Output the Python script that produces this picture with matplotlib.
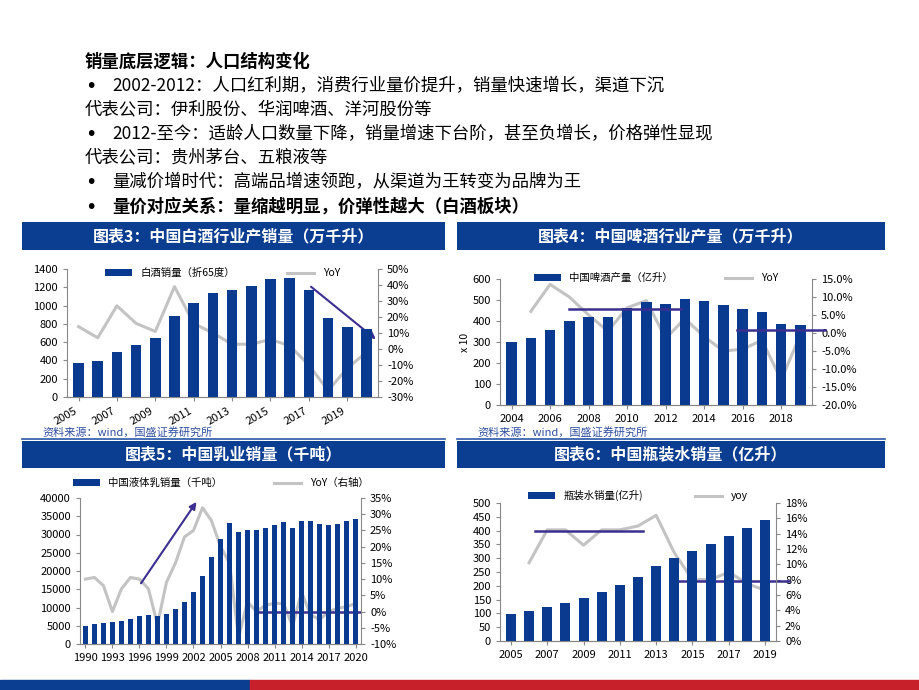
import numpy as np
import matplotlib.pyplot as plt
from matplotlib.ticker import FuncFormatter, MultipleLocator

plt.rcParams["font.family"] = ["Noto Sans CJK SC", "DejaVu Sans"]

W, H = 920, 690
BAR = "#0a3a8f"
LINE = "#c3c3c3"
MARK = "#3b2f91"

# chart 3: baijiu
bj_years = list(range(2005, 2021))
bj_sales = [370, 395, 495, 570, 640, 890, 1030, 1140, 1175, 1215, 1290, 1305, 1175, 860, 765, 745]
bj_yoy = [14, 7, 27, 16, 11, 39, 16, 10, 3, 3, 6, 2, -10, -26, -12, -2]

# chart 4: beer
beer_years = list(range(2004, 2020))
beer_prod = [300, 318, 358, 400, 420, 420, 460, 490, 483, 503, 495, 475, 455, 445, 385, 382]
beer_yoy_years = list(range(2005, 2020))
beer_yoy = [6, 13.5, 10, 5, 0.5, 7, 9, -1.5, 4, -1, -5, -4.5, -2, -13, -0.5]

# chart 5: dairy
milk_years = list(range(1990, 2021))
milk_sales = [5000, 5400, 5800, 5900, 6300, 6900, 7600, 7900, 7600, 8300, 9500, 11400, 14200,
              18600, 23800, 28800, 33100, 30600, 31300, 31300, 31700, 32600, 33300, 31700,
              33600, 33800, 33000, 32700, 33000, 33600, 34300]
milk_yoy = [10, 10.5, 8, 0, 7, 10.5, 10, 7, -4, 9, 15, 23, 25, 32, 28, 20, 15, -8, 3, 0, 2,
            2.5, 2.5, -4.5, 6, -1, -2.5, 0, 1, 1.5, 2.5]

# chart 6: bottled water
water_years = list(range(2005, 2020))
water_sales = [97, 107, 122, 138, 155, 178, 203, 233, 270, 300, 325, 350, 382, 410, 438]
water_yoy_years = list(range(2006, 2020))
water_yoy = [10.2, 14.5, 14.5, 12.5, 14.5, 14.5, 15, 16.4, 11.5, 8, 8, 9, 7.5, 6.6]

fig = plt.figure(figsize=(W / 100, H / 100), dpi=100)


def axes_px(x0, y0, x1, y1):
    return fig.add_axes([x0 / W, 1 - y1 / H, (x1 - x0) / W, (y1 - y0) / H])


def ftext(x, y, s, **kw):
    fig.text(x / W, 1 - y / H, s, **kw)


# header text
lines = [
    (85, 62, "销量底层逻辑：人口结构变化", True, None),
    (85, 86, "2002-2012：人口红利期，消费行业量价提升，销量快速增长，渠道下沉", False, "•"),
    (85, 109, "代表公司：伊利股份、华润啤酒、洋河股份等", False, None),
    (85, 134, "2012-至今：适龄人口数量下降，销量增速下台阶，甚至负增长，价格弹性显现", False, "•"),
    (85, 157, "代表公司：贵州茅台、五粮液等", False, None),
    (85, 182, "量减价增时代：高端品增速领跑，从渠道为王转变为品牌为王", False, "•"),
    (85, 207, "量价对应关系：量缩越明显，价弹性越大（白酒板块）", True, "•"),
]
for x, y, s, bold, bullet in lines:
    if bullet:
        ftext(x, y, bullet, fontsize=14, va="center", fontfamily="DejaVu Sans")
        x = 112
    ftext(x, y, s, fontsize=12.5, va="center", fontweight="bold" if bold else "normal")

# banners
for (x0, y0, x1, y1, s) in [(22, 222, 445, 250, "图表3：中国白酒行业产销量（万千升）"),
                            (457, 222, 885, 250, "图表4：中国啤酒行业产量（万千升）"),
                            (22, 441, 445, 468, "图表5：中国乳业销量（千吨）"),
                            (457, 441, 885, 468, "图表6：中国瓶装水销量（亿升）")]:
    b = axes_px(x0, y0, x1, y1)
    b.set_facecolor("#0b3d91")
    b.set_xticks([]); b.set_yticks([])
    for sp in b.spines.values():
        sp.set_visible(False)
    b.text(0.5, 0.5, s, color="white", fontsize=11.5, fontweight="bold",
           ha="center", va="center", transform=b.transAxes)

for x0, x1 in [(22, 445), (457, 885)]:
    ftext(x0 + 20, 432, "资料来源：wind，国盛证券研究所", fontsize=8, style="italic",
          color="#2f4fa0", va="center")
    fig.add_artist(plt.Line2D([x0 / W, x1 / W], [1 - 439 / H] * 2, color="#2b56a8", lw=1.2))

# footer strip
fig.add_artist(plt.Rectangle((0, 0), 250 / W, 10 / H, color="#0b3d91", transform=fig.transFigure))
fig.add_artist(plt.Rectangle((250 / W, 0), 1 - 250 / W, 10 / H, color="#c8202a", transform=fig.transFigure))


def pct(dec):
    return FuncFormatter(lambda v, p: f"{v:.{dec}f}%")


def style(ax, ax2):
    for a in (ax, ax2):
        a.spines["top"].set_visible(False)
        a.tick_params(labelsize=8, length=3, color="#888888")
        for sp in ("left", "right", "bottom"):
            a.spines[sp].set_color("#888888")
    ax2.spines["left"].set_visible(False)
    ax.spines["right"].set_visible(False)
    ax.set_zorder(ax2.get_zorder() + 1)
    ax.patch.set_visible(False)


def legend(ax, h, labels, y=1.06):
    ax.legend(h, labels, loc="upper center", bbox_to_anchor=(0.5, y), ncol=2, frameon=False,
              fontsize=7.5, handlelength=2.6, columnspacing=5)


# chart 3
ax = axes_px(67, 269, 378, 397)
ax2 = ax.twinx()
b = ax.bar(bj_years, bj_sales, width=0.55, color=BAR)
l, = ax2.plot(bj_years, bj_yoy, color=LINE, lw=2.2)
ax.set_ylim(0, 1400); ax2.set_ylim(-30, 50)
ax.yaxis.set_major_locator(MultipleLocator(200))
ax2.yaxis.set_major_locator(MultipleLocator(10)); ax2.yaxis.set_major_formatter(pct(0))
ax.set_xlim(2004.4, 2020.6)
ax.set_xticks(bj_years[::2])
plt.setp(ax.get_xticklabels(), rotation=30, ha="right")
style(ax, ax2)
ax2.annotate("", xy=(2020.6, 5), xytext=(2017, 40),
             arrowprops=dict(arrowstyle="-|>", color=MARK, lw=1.5))
legend(ax, [b, l], ["白酒销量（折65度）", "YoY"], y=1.08)

# chart 4
ax = axes_px(500, 279, 812, 405)
ax2 = ax.twinx()
b = ax.bar(beer_years, beer_prod, width=0.55, color=BAR)
l, = ax2.plot(beer_yoy_years, beer_yoy, color=LINE, lw=2.2)
ax.set_ylim(0, 600); ax2.set_ylim(-20, 15)
ax.yaxis.set_major_locator(MultipleLocator(100))
ax2.yaxis.set_major_locator(MultipleLocator(5)); ax2.yaxis.set_major_formatter(pct(1))
ax.set_xlim(2003.4, 2019.6)
ax.set_xticks(beer_years[::2])
ax.set_ylabel("x 10", fontsize=7.5, labelpad=2)
style(ax, ax2)
ax.plot([2007, 2012.8], [459, 459], color=MARK, lw=1.8)
ax.plot([2015.7, 2020.3], [357, 357], color=MARK, lw=1.8, clip_on=False)
legend(ax, [b, l], ["中国啤酒产量（亿升）", "YoY"], y=1.12)

# chart 5
ax = axes_px(80, 498, 361, 644)
ax2 = ax.twinx()
b = ax.bar(milk_years, milk_sales, width=0.6, color=BAR)
l, = ax2.plot(milk_years, milk_yoy, color=LINE, lw=2.2)
ax.set_ylim(0, 40000); ax2.set_ylim(-10, 35)
ax.yaxis.set_major_locator(MultipleLocator(5000))
ax2.yaxis.set_major_locator(MultipleLocator(5)); ax2.yaxis.set_major_formatter(pct(0))
ax.set_xlim(1989.4, 2020.6)
ax.set_xticks(milk_years[::3])
style(ax, ax2)
ax2.annotate("", xy=(2002.5, 34.5), xytext=(1996, 8),
             arrowprops=dict(arrowstyle="-|>", color=MARK, lw=1.5))
ax2.plot([2009, 2020.6], [0, 0], color=MARK, lw=1.8)
legend(ax, [b, l], ["中国液体乳销量（千吨）", "YoY（右轴）"], y=1.2)

# chart 6
ax = axes_px(500, 503, 776, 641)
ax2 = ax.twinx()
b = ax.bar(water_years, water_sales, width=0.55, color=BAR)
l, = ax2.plot(water_yoy_years, water_yoy, color=LINE, lw=2.2)
ax.set_ylim(0, 500); ax2.set_ylim(0, 18)
ax.yaxis.set_major_locator(MultipleLocator(50))
ax2.yaxis.set_major_locator(MultipleLocator(2)); ax2.yaxis.set_major_formatter(pct(0))
ax.set_xlim(2004.4, 2019.6)
ax.set_xticks(water_years[::2])
style(ax, ax2)
ax.plot([2006.3, 2012.3], [400, 400], color=MARK, lw=1.8)
ax2.plot([2014, 2020.3], [7.8, 7.8], color=MARK, lw=1.8, clip_on=False)
legend(ax, [b, l], ["瓶装水销量(亿升)", "yoy"], y=1.16)

fig.savefig("out.png", dpi=100)
